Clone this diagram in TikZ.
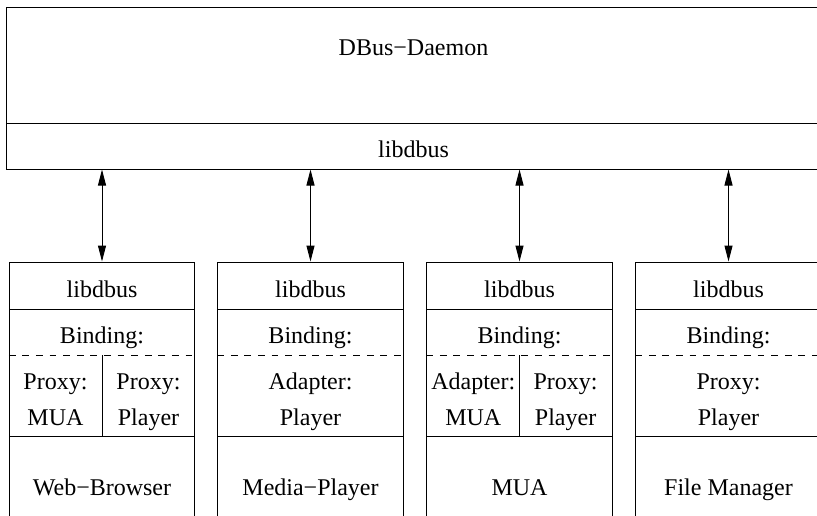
\documentclass[tikz,border=0pt]{standalone}
\usepackage{fontspec}
\setmainfont{Liberation Serif}
\usepackage{tikz}
\usetikzlibrary{positioning, arrows.meta}

\begin{document}
\begin{tikzpicture}[
        % Define styles for consistency
        x=0.5pt, y=-0.5pt,
        box/.style={draw, rectangle, line width=0.5pt, inner sep=0pt, minimum width=92.75pt},
        txt/.style={anchor=base, inner sep=0pt, align=center},
        link/.style={{Triangle[length=8pt, width=4pt]}-{Triangle[length=8pt, width=4pt]}, line width=0.5pt},
        split/.style={line width=0.5pt, dash pattern=on 3.4pt off 3.4pt},
        divider/.style={line width=0.5pt},
        font=\fontsize{12}{18}\selectfont
    ]

        % --- Frame ---
        \useasboundingbox (0,0) rectangle (817,515);
        \clip (0,0) rectangle (817,515);

        % --- Coordinates ---
        % height of the dashed line in the binding boxes
        \coordinate (dash_y) at (0,355);

        % --- Daemon ---
        \node[box, minimum width=407.5pt, minimum height=58pt] (daemon) at (413.5,65) {};
        \node[box, minimum width=407.5pt, minimum height=23pt] (daemon_lib) at (413.5,146) {};
        \node[txt] (daemon_txt) at (413.5,55) {DBus−Daemon};
        \node[txt] (daemon_lib_txt) at (413.5,157) {libdbus};

        % --- Web-Browser ---
        \node[box, minimum height=23.5pt] (web_lib) at (102,285.5) {};
        \node[box, minimum height=63.5pt] (web_bind) at (102,372.5) {};
        \node[box, minimum height=52pt] (web_app) at (102,488) {};
        \draw[split] (web_bind.west |- dash_y) -- (web_bind.east |- dash_y);
        \draw[divider] (web_bind.center |- dash_y) -- (web_bind.south);
        \node[txt] (web_lib_txt) at (102,297) {libdbus};
        \node[txt] (web_bind_txt) at (102,343) {Binding:};
        \node[txt] (web_mua) at (55.5,425) {Proxy:\\MUA};
        \node[txt] (web_player) at (148.5,425) {Proxy:\\Player};
        \node[txt] (web_app_txt) at (102,495) {Web−Browser};

        % --- Media-Player ---
        \node[box, minimum height=23.5pt] (media_lib) at (310.5,285.5) {};
        \node[box, minimum height=63.5pt] (media_bind) at (310.5,372.5) {};
        \node[box, minimum height=52pt] (media_app) at (310.5,488) {};
        \draw[split] (media_bind.west |- dash_y) -- (media_bind.east |- dash_y);
        \node[txt] (media_lib_txt) at (310.5,297) {libdbus};
        \node[txt] (media_bind_txt) at (310.5,343) {Binding:};
        \node[txt] (media_player) at (310.5,425) {Adapter:\\Player};
        \node[txt] (media_app_txt) at (310.5,495) {Media−Player};

        % --- MUA ---
        \node[box, minimum height=23.5pt] (mua_lib) at (519.5,285.5) {};
        \node[box, minimum height=63.5pt] (mua_bind) at (519.5,372.5) {};
        \node[box, minimum height=52pt] (mua_app) at (519.5,488) {};
        \draw[split] (mua_bind.west |- dash_y) -- (mua_bind.east |- dash_y);
        \draw[divider] (mua_bind.center |- dash_y) -- (mua_bind.south);
        \node[txt] (mua_lib_txt) at (519.5,297) {libdbus};
        \node[txt] (mua_bind_txt) at (519.5,343) {Binding:};
        \node[txt] (mua_mua) at (473.3,425) {Adapter:\\MUA};
        \node[txt] (mua_player) at (565.6,425) {Proxy:\\Player};
        \node[txt] (mua_app_txt) at (519.5,495) {MUA};

        % --- File Manager ---
        \node[box, minimum height=23.5pt] (file_lib) at (728.5,285.5) {};
        \node[box, minimum height=63.5pt] (file_bind) at (728.5,372.5) {};
        \node[box, minimum height=52pt] (file_app) at (728.5,488) {};
        \draw[split] (file_bind.west |- dash_y) -- (file_bind.east |- dash_y);
        \node[txt] (file_lib_txt) at (728.5,297) {libdbus};
        \node[txt] (file_bind_txt) at (728.5,343) {Binding:};
        \node[txt] (file_player) at (728.5,425) {Proxy:\\Player};
        \node[txt] (file_app_txt) at (728.5,495) {File Manager};

        % --- Draw Links ---
        \draw[link] (web_lib.north |- daemon_lib.south) -- (web_lib.north);
        \draw[link] (media_lib.north |- daemon_lib.south) -- (media_lib.north);
        \draw[link] (mua_lib.north |- daemon_lib.south) -- (mua_lib.north);
        \draw[link] (file_lib.north |- daemon_lib.south) -- (file_lib.north);

    \end{tikzpicture}
\end{document}
